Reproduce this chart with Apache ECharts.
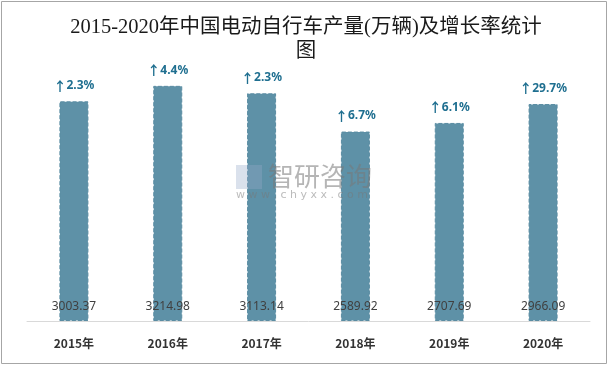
<!DOCTYPE html>
<html><head><meta charset="utf-8">
<script src="https://cdn.jsdelivr.net/npm/echarts@6/dist/echarts.min.js"></script>
<style>html,body{margin:0;padding:0;background:#fff}#c{width:612px;height:367px}</style>
</head><body><div id="c"></div>
<script>
const categories = ['2015年','2016年','2017年','2018年','2019年','2020年'];
const production = [3003.37, 3214.98, 3113.14, 2589.92, 2707.69, 2966.09];
const growth = ['2.3%','4.4%','2.3%','6.7%','6.1%','29.7%'];

const chart = echarts.init(document.getElementById('c'));
chart.setOption({
  backgroundColor: '#fff',
  animation: false,
  title: {
    text: '2015-2020年中国电动自行车产量(万辆)及增长率统计\n图',
    left: 'center', top: 11,
    textStyle: { fontFamily: 'Liberation Serif, "Noto Sans CJK SC"', fontSize: 20.5, fontWeight: 'normal', color: '#1a1a1a', lineHeight: 24 }
  },
  grid: { left: 27, right: 22, top: 65, bottom: 46 },
  xAxis: {
    type: 'category', data: categories,
    axisLine: { lineStyle: { color: '#d9d9d9', width: 1 } },
    axisTick: { show: false },
    axisLabel: { color: '#333', fontSize: 12, fontWeight: 'bold', margin: 16, fontFamily: '"Noto Sans CJK SC", sans-serif' }
  },
  yAxis: { type: 'value', min: 0, max: 3500, show: false, splitLine: { show: false } },
  series: [{
    type: 'bar', data: production, barWidth: 29,
    itemStyle: { color: '#5e91a7', borderColor: '#5a8ca2', borderWidth: 1, borderType: 'dashed' },
    label: {
      show: true, position: 'insideBottom', distance: 8,
      color: '#404040', fontSize: 12, fontFamily: '"Noto Sans", sans-serif',
      formatter: p => p.value.toFixed(2)
    },
    z: 2
  }, {
    type: 'bar', data: production, barWidth: 29, barGap: '-100%',
    itemStyle: { color: 'transparent' },
    label: {
      show: true, position: 'top', distance: 9,
      formatter: p => '{a|↑}{b|' + growth[p.dataIndex] + '}',
      rich: {
        a: { color: '#1f6f90', fontSize: 13, fontWeight: 'bold', fontFamily: '"Noto Sans CJK SC"' },
        b: { color: '#1f6f90', fontSize: 12, fontWeight: 'bold', fontFamily: '"Noto Sans", sans-serif' }
      }
    },
    silent: true, z: 3
  }],
  graphic: [
    { type: 'rect', shape: { x: 1.5, y: 1.5, width: 605, height: 362 }, style: { fill: 'none', stroke: '#a6a6a6', lineWidth: 1 }, z: 10 },
    { type: 'text', left: 268, top: 163, style: { text: '智研咨询', fill: 'rgba(120,120,120,0.55)', font: '26px "Noto Sans CJK SC"' }, z: 10 },
    { type: 'text', left: 236, top: 190, style: { text: 'w w w . c h y x x . c o m', fill: 'rgba(120,120,120,0.5)', font: '11px "DejaVu Sans"' }, z: 10 },
    { type: 'rect', shape: { x: 236, y: 165, width: 26, height: 24 }, style: { fill: 'rgba(150,170,200,0.35)' }, z: 10 }
  ]
});
</script></body></html>
